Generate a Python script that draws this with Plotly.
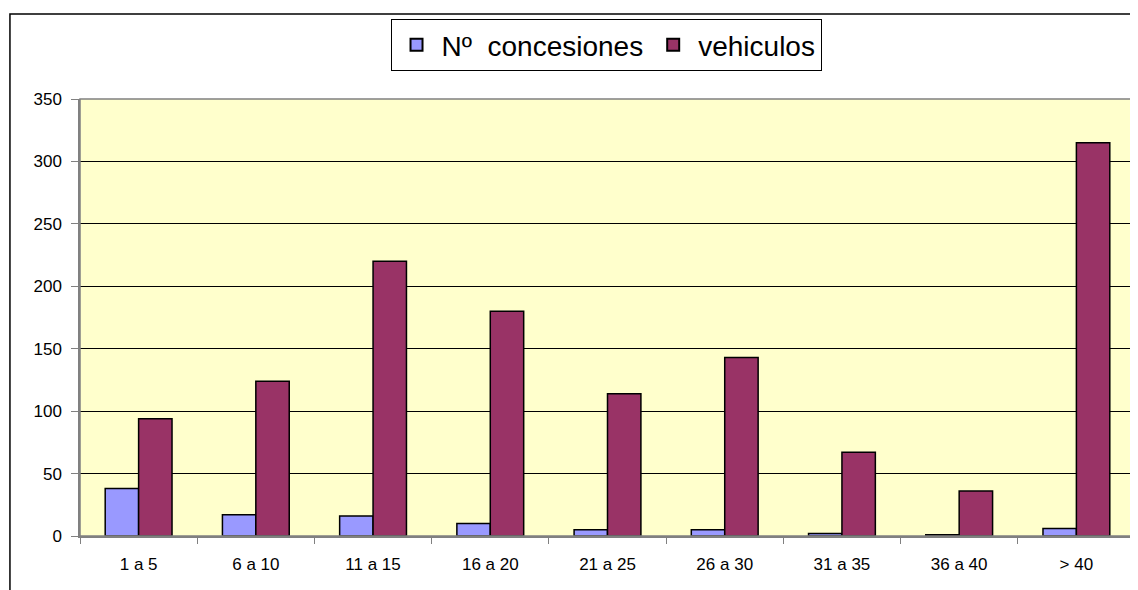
import plotly.graph_objects as go

categories = ["1 a 5", "6 a 10", "11 a 15", "16 a 20", "21 a 25", "26 a 30", "31 a 35", "36 a 40", "> 40"]
concesiones = [38, 17, 16, 10, 5, 5, 2, 1, 6]
vehiculos = [94, 124, 220, 180, 114, 143, 67, 36, 315]
y_ticks = [0, 50, 100, 150, 200, 250, 300, 350]

FONT = "Liberation Sans, Arial, sans-serif"

fig = go.Figure()
fig.add_trace(go.Bar(
    x=categories, y=concesiones, name="Nº  concesiones",
    marker=dict(color="#9999FF", line=dict(color="#000000", width=1.5)),
))
fig.add_trace(go.Bar(
    x=categories, y=vehiculos, name="vehiculos",
    marker=dict(color="#993366", line=dict(color="#000000", width=1.5)),
))

fig.update_layout(
    width=1130, height=582,
    margin=dict(l=72, r=3, t=91, b=54),
    paper_bgcolor="white",
    plot_bgcolor="#FFFFCC",
    barmode="group",
    bargap=0.43,
    bargroupgap=0,
    font=dict(family=FONT, color="#000000"),
    showlegend=True,
    legend=dict(
        orientation="h",
        x=0.4986, xanchor="center",
        y=1.183, yanchor="top",
        bordercolor="#000000", borderwidth=1,
        bgcolor="white",
        font=dict(family=FONT, size=28, color="#000000"),
        itemsizing="constant",
        itemwidth=40,
        traceorder="normal",
    ),
    xaxis=dict(
        type="category",
        tickson="boundaries",
        ticks="outside", ticklen=6, tickcolor="#808080", tickwidth=1,
        showline=True, linecolor="#808080", linewidth=1.5,
        showgrid=False,
        ticklabelstandoff=12,
        tickfont=dict(family=FONT, size=17, color="#000000"),
    ),
    yaxis=dict(
        range=[0, 350],
        tickvals=y_ticks,
        ticks="outside", ticklen=7, tickcolor="#808080", tickwidth=1,
        showline=True, linecolor="#808080", linewidth=1.5,
        showgrid=True, gridcolor="#000000", gridwidth=1,
        zeroline=False,
        ticklabelstandoff=6,
        tickfont=dict(family=FONT, size=17, color="#000000"),
    ),
    shapes=[
        dict(type="rect", xref="paper", yref="paper",
             x0=0, x1=1, y0=0, y1=1,
             line=dict(color="#808080", width=1.5), layer="above"),
        dict(type="rect", xref="paper", yref="paper",
             x0=-0.0664, x1=1.05, y0=-0.2, y1=1.1945,
             line=dict(color="#000000", width=1.5), layer="below"),
    ],
)

fig.write_html("out.html")
